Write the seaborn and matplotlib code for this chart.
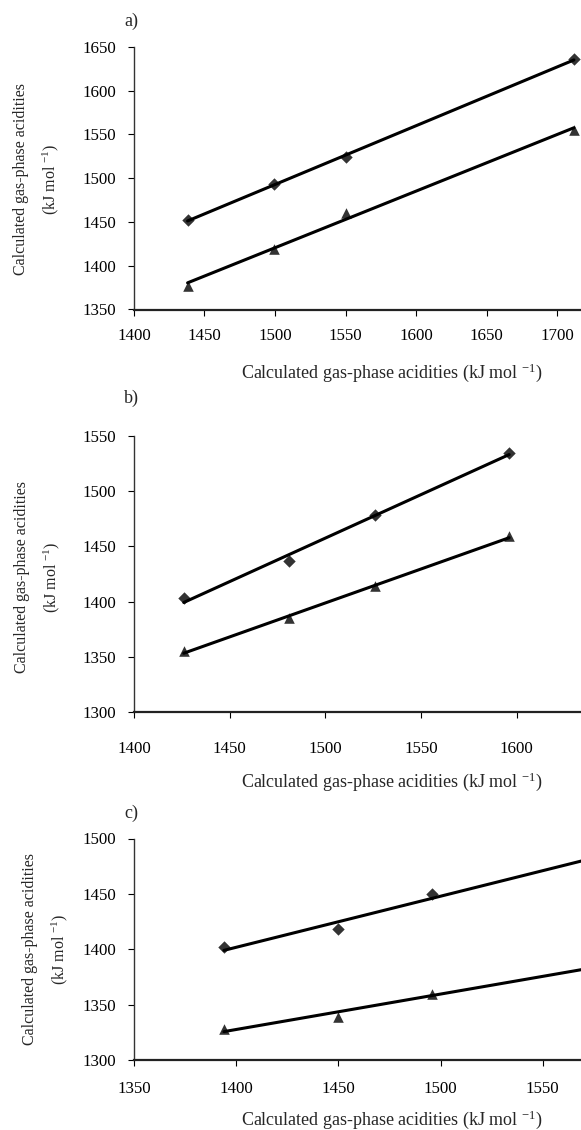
import numpy as np
import matplotlib
matplotlib.use("Agg")
import matplotlib.pyplot as plt
import seaborn as sns

# -------------------------------------------------
# Data
# -------------------------------------------------

# panel a)
a_x = [1438, 1499, 1550, 1712]
a_diamond = [1452, 1493, 1524, 1636]
a_triangle = [1377, 1419, 1460, 1555]

# panel b)
b_x = [1426, 1481, 1526, 1596]
b_diamond = [1403, 1437, 1478, 1535]
b_triangle = [1355, 1385, 1414, 1459]

# panel c)  (last points sit just past the right edge)
c_x = [1394, 1450, 1496, 1572]
c_diamond = [1402, 1418, 1450, 1481]
c_triangle = [1328, 1339, 1360, 1383]

# visible tick labels (the axes run on past the right edge of the page)
a_xticks = [1400, 1450, 1500, 1550, 1600, 1650, 1700]
a_yticks = [1350, 1400, 1450, 1500, 1550, 1600, 1650]
b_xticks = [1400, 1450, 1500, 1550, 1600]
b_yticks = [1300, 1350, 1400, 1450, 1500, 1550]
c_xticks = [1350, 1400, 1450, 1500, 1550]
c_yticks = [1300, 1350, 1400, 1450, 1500]
a_xmax, b_xmax, c_xmax = 1750, 1650, 1600

xlabel = "Calculated gas-phase acidities (kJ mol $^{-1}$)"
ylabel = "Calculated gas-phase acidities\n(kJ mol $^{-1}$)"

# -------------------------------------------------
# Style
# -------------------------------------------------

sns.set_theme(style="ticks")
plt.rcParams["font.family"] = ["Liberation Serif", "DejaVu Serif"]
plt.rcParams["mathtext.fontset"] = "custom"
plt.rcParams["mathtext.rm"] = "Liberation Serif"
plt.rcParams["mathtext.it"] = "Liberation Serif:italic"
plt.rcParams["mathtext.bf"] = "Liberation Serif:bold"

W, H = 581, 1130
fig = plt.figure(figsize=(W / 100, H / 100), dpi=100)


def add_panel(left, top, right, bottom):
    return fig.add_axes([left / W, 1 - bottom / H, (right - left) / W, (bottom - top) / H])


def draw_panel(ax, x, yd, yt, xticks, xmax, yticks, xpad, lab, lab_y, xlab_y, ylab_x, ylab_y):
    for y, mk, ms in [(yd, "D", 40), (yt, "^", 58)]:
        sns.regplot(
            x=np.array(x), y=np.array(y), ax=ax, ci=None, truncate=True,
            marker=mk, color="black",
            scatter_kws={"s": ms, "linewidths": 0, "clip_on": False},
            line_kws={"lw": 2.2, "clip_on": False},
        )
    ax.set_xlim(xticks[0], xmax)
    ax.set_ylim(yticks[0], yticks[-1])
    ax.set_xticks(xticks)
    ax.set_yticks(yticks)
    sns.despine(ax=ax)
    ax.spines["left"].set_linewidth(1.0)
    ax.spines["bottom"].set_linewidth(1.6)
    ax.spines["left"].set_color("#333333")
    ax.spines["bottom"].set_color("#222222")
    ax.tick_params(axis="both", direction="out", length=4, width=0.8,
                   colors="black", labelsize=12.2)
    ax.tick_params(axis="x", pad=xpad)
    ax.tick_params(axis="y", pad=9)

    ax.set_xlabel(xlabel, fontsize=13)
    ax.xaxis.label.set_va("center")
    ax.xaxis.set_label_coords(392 / W, 1 - xlab_y / H, transform=fig.transFigure)

    ax.set_ylabel(ylabel, fontsize=11.5, linespacing=1.8)
    ax.yaxis.label.set_va("center")
    ax.yaxis.set_label_coords(ylab_x / W, 1 - ylab_y / H, transform=fig.transFigure)

    fig.text(124 / W, 1 - lab_y / H, lab, fontsize=13, va="center", ha="left")


ax_a = add_panel(134, 47, 134 + 493.5, 309.5)
draw_panel(ax_a, a_x, a_diamond, a_triangle, a_xticks, a_xmax, a_yticks,
           xpad=9, lab="a)", lab_y=21, xlab_y=373, ylab_x=37, ylab_y=179)

ax_b = add_panel(134, 436, 134 + 478.5, 712)
draw_panel(ax_b, b_x, b_diamond, b_triangle, b_xticks, b_xmax, b_yticks,
           xpad=17, lab="b)", lab_y=398, xlab_y=782, ylab_x=38, ylab_y=577)

ax_c = add_panel(134, 838.5, 134 + 511, 1060)
draw_panel(ax_c, c_x, c_diamond, c_triangle, c_xticks, c_xmax, c_yticks,
           xpad=11, lab="c)", lab_y=813, xlab_y=1120, ylab_x=46, ylab_y=949)

fig.savefig("out.png", dpi=100, facecolor="white")
plt.close(fig)
